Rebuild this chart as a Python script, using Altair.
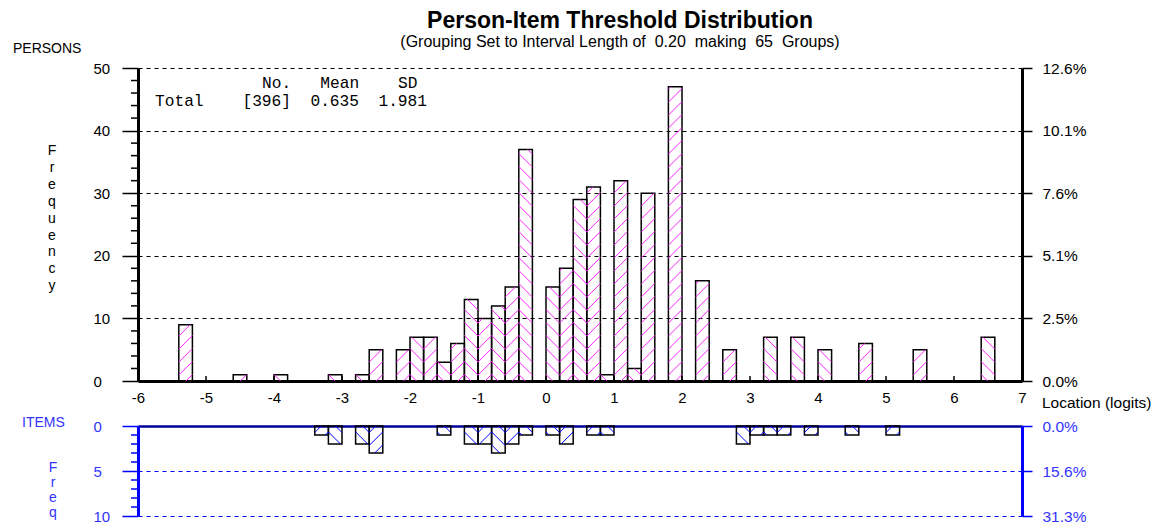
import altair as alt
import pandas as pd

# ---------------- data ----------------
person_loc = [-5.3, -4.5, -3.9, -3.1, -2.7, -2.5, -2.1, -1.9, -1.7, -1.5, -1.3,
              -1.1, -0.9, -0.7, -0.5, -0.3, 0.1, 0.3, 0.5, 0.7, 0.9, 1.1, 1.3,
              1.5, 1.9, 2.3, 2.7, 3.3, 3.7, 4.1, 4.7, 5.5, 6.5]
person_freq = [9, 1, 1, 1, 1, 5, 5, 7, 7, 3, 6,
               13, 10, 12, 15, 37, 15, 18, 29, 31, 1, 32, 2,
               30, 47, 16, 5, 7, 7, 5, 6, 5, 7]
item_loc = [-3.3, -3.1, -2.7, -2.5, -1.5, -1.1, -0.9, -0.7, -0.5, -0.3,
            0.1, 0.3, 0.7, 0.9, 2.9, 3.1, 3.3, 3.5, 3.9, 4.5, 5.1]
item_freq = [1, 2, 2, 3, 1, 2, 2, 3, 2, 1,
             1, 2, 1, 1, 2, 1, 1, 1, 1, 1, 1]
x_ticks = list(range(-6, 8))
person_ticks = [0, 10, 20, 30, 40, 50]
person_minor = [v for v in range(0, 51, 2) if v % 10 != 0]
item_ticks = [0, 5, 10]
item_minor = [v for v in range(0, 11) if v % 5 != 0]
N_PERSONS = 396
N_ITEMS = 32
MEAN = "0.635"
SD = "1.981"
INTERVAL = 0.20
N_GROUPS = 65

TITLE = "Person-Item Threshold Distribution"
NB = "\u00a0"
SUBTITLE = f"(Grouping Set to Interval Length of{NB}{NB}{INTERVAL:.2f}{NB}{NB}making{NB}{NB}{N_GROUPS}{NB}{NB}Groups)"
STAT_HEAD = "No." + NB * 3 + "Mean" + NB * 4 + "SD"
STAT_LINE = "Total" + NB * 4 + f"[{N_PERSONS}]" + NB * 2 + MEAN + NB * 2 + SD

# ---------------- layout constants ----------------
W = 884
H_TOP = 313
H_BOT = 90
X_MIN, X_MAX = -6, 7
PX_X = W / (X_MAX - X_MIN)
FONT = "Liberation Sans"
MONO = "Liberation Mono"
BLUE = "#0000ff"
BLUE_TXT = "#3333ff"
MAGENTA = "#ff22ff"
MONO_SIZE = 16.2


def bars_df(locs, freqs):
    return pd.DataFrame({
        "x0": [l - INTERVAL / 2 for l in locs],
        "x1": [l + INTERVAL / 2 for l in locs],
        "freq": freqs,
        "base": [0] * len(locs),
    })


def hatch_df(locs, freqs, px_y, down, spacing=13.0):
    """Diagonal hatch segments inside each bar (derived from the bar data)."""
    bw = INTERVAL * PX_X
    rows = []
    for loc, f in zip(locs, freqs):
        k = int(round((loc - X_MIN) / INTERVAL - 0.5))
        screen_slash = (k % 2 == 1)
        rising = screen_slash != down
        x0 = loc - INTERVAL / 2
        h = f * px_y
        segs = []
        if rising:
            c = -bw + spacing / 2
            while c < h:
                us, ue = max(0.0, -c), min(bw, h - c)
                if ue - us > 0.5:
                    segs.append((us, us + c, ue, ue + c))
                c += spacing
        else:
            c = spacing / 2
            while c < h + bw:
                us, ue = max(0.0, c - h), min(bw, c)
                if ue - us > 0.5:
                    segs.append((us, c - us, ue, c - ue))
                c += spacing
        for (u1, v1, u2, v2) in segs:
            rows.append({"x": x0 + u1 / PX_X, "y": v1 / px_y,
                         "x2": x0 + u2 / PX_X, "y2": v2 / px_y})
    return pd.DataFrame(rows)


one = pd.DataFrame({"k": [0]})
xscale = alt.Scale(domain=[X_MIN, X_MAX], nice=False, zero=False)


def text_layer(txt, x, y, size, color="black", font=FONT, weight="normal",
               align="left", baseline="middle", line_height=None):
    kw = dict(text=txt, font=font, fontSize=size, color=color, fontWeight=weight,
              align=align, baseline=baseline)
    if line_height is not None:
        kw["lineBreak"] = "\n"
        kw["lineHeight"] = line_height
    return alt.Chart(one).mark_text(**kw).encode(x=alt.value(x), y=alt.value(y))


# ================= top panel : persons =================
p_bars = bars_df(person_loc, person_freq)
p_hatch = hatch_df(person_loc, person_freq, H_TOP / 50, down=False)
yscale_p = alt.Scale(domain=[0, 50], nice=False, zero=True)

p_outline = alt.Chart(p_bars).mark_rect(fillOpacity=0, stroke="black", strokeWidth=1.5).encode(
    x=alt.X("x0:Q", scale=xscale, title=None,
            axis=alt.Axis(values=x_ticks, ticks=False, tickSize=0, domainColor="black",
                          domainWidth=3, labelPadding=9, labelFontSize=15, labelFont=FONT,
                          labelColor="black", labelExpr="'' + datum.value", grid=False,
                          labelFlush=False, labelOverlap=False, title=None)),
    x2="x1:Q",
    y=alt.Y("freq:Q", scale=yscale_p, title=None,
            axis=alt.Axis(values=person_ticks, tickSize=16, tickWidth=1.5, tickColor="black",
                          domainColor="black", domainWidth=3, labelAlign="left",
                          labelPadding=29, labelFontSize=15, labelFont=FONT, labelColor="black",
                          grid=True, gridColor="black", gridDash=[4, 4], gridWidth=1.2,
                          labelFlush=False, labelOverlap=False, title=None)),
    y2="base:Q",
)
p_hatch_l = alt.Chart(p_hatch).mark_rule(color=MAGENTA, strokeWidth=1).encode(
    x=alt.X("x:Q", title=None), x2="x2:Q", y=alt.Y("y:Q", title=None), y2="y2:Q")
p_minor = alt.Chart(pd.DataFrame({"v": person_minor})).mark_rule(color="black", strokeWidth=1.5).encode(
    y=alt.Y("v:Q", title=None), x=alt.value(-7), x2=alt.value(0))
p_xt = alt.Chart(pd.DataFrame({"t": x_ticks})).mark_rule(color="black", strokeWidth=1.5).encode(
    x=alt.X("t:Q", title=None), y=alt.value(H_TOP - 5), y2=alt.value(H_TOP))

top_texts = [
    text_layer(TITLE, 482, -40, 23, weight="bold", align="center", baseline="alphabetic"),
    text_layer(SUBTITLE, 482, -21, 16, align="center", baseline="alphabetic"),
    text_layer("PERSONS", -125, -19, 14),
    text_layer("\n".join("Frequency"), -86, 76, 14, align="center", baseline="top", line_height=16.9),
    text_layer(STAT_HEAD, 17 + 27 * MONO_SIZE * 0.6, 15, MONO_SIZE, font=MONO, align="right"),
    text_layer(STAT_LINE, 17, 33, MONO_SIZE, font=MONO),
    text_layer("Location (logits)", 904, 335, 15.5),
]

p_right = alt.Chart(pd.DataFrame({"v": person_ticks})).mark_rule(opacity=0).encode(
    y=alt.Y("v:Q", scale=alt.Scale(domain=[0, 50], nice=False), title=None,
            axis=alt.Axis(orient="right", values=person_ticks,
                          labelExpr=f"format(datum.value / {N_PERSONS} * 100, '.1f') + '%'",
                          tickSize=10, tickWidth=1.5, tickColor="black", domainColor="black",
                          domainWidth=3, labelPadding=10, labelFontSize=15.5, labelFont=FONT,
                          labelColor="black", grid=False, labelFlush=False, labelOverlap=False,
                          title=None)))

top = alt.layer(
    alt.layer(p_outline, p_hatch_l, p_minor, p_xt, *top_texts),
    p_right,
).resolve_scale(y="independent").properties(width=W, height=H_TOP)

# ================= bottom panel : items =================
i_bars = bars_df(item_loc, item_freq)
i_hatch = hatch_df(item_loc, item_freq, H_BOT / 10, down=True)
yscale_i = alt.Scale(domain=[0, 10], nice=False, zero=True, reverse=True)

i_outline = alt.Chart(i_bars).mark_rect(fillOpacity=0, stroke="black", strokeWidth=1.5).encode(
    x=alt.X("x0:Q", scale=xscale, title=None,
            axis=alt.Axis(orient="top", labels=False, ticks=False, domainColor="#000099",
                          domainWidth=2.5, grid=False, title=None)),
    x2="x1:Q",
    y=alt.Y("freq:Q", scale=yscale_i, title=None,
            axis=alt.Axis(values=item_ticks, tickSize=16, tickWidth=1.5, tickColor=BLUE,
                          domainColor=BLUE, domainWidth=3, labelAlign="left",
                          labelPadding=29, labelFontSize=15, labelFont=FONT, labelColor=BLUE_TXT,
                          grid=True, gridColor=BLUE, gridDash=[4, 4], gridWidth=1.2,
                          labelFlush=False, labelOverlap=False, title=None)),
    y2="base:Q",
)
i_hatch_l = alt.Chart(i_hatch).mark_rule(color=BLUE, strokeWidth=1).encode(
    x=alt.X("x:Q", title=None), x2="x2:Q", y=alt.Y("y:Q", title=None), y2="y2:Q")
i_minor = alt.Chart(pd.DataFrame({"v": item_minor})).mark_rule(color=BLUE, strokeWidth=1.5).encode(
    y=alt.Y("v:Q", title=None), x=alt.value(-7), x2=alt.value(0))

bot_texts = [
    text_layer("ITEMS", -116, -3, 14, color=BLUE_TXT),
    text_layer("\n".join("Freq"), -85, 35, 14, color=BLUE_TXT, align="center",
               baseline="top", line_height=15),
]

i_right = alt.Chart(pd.DataFrame({"v": item_ticks})).mark_rule(opacity=0).encode(
    y=alt.Y("v:Q", scale=alt.Scale(domain=[0, 10], nice=False, reverse=True), title=None,
            axis=alt.Axis(orient="right", values=item_ticks,
                          labelExpr=f"format(datum.value / {N_ITEMS} * 100, '.1f') + '%'",
                          tickSize=10, tickWidth=1.5, tickColor=BLUE, domainColor=BLUE,
                          domainWidth=3, labelPadding=10, labelFontSize=15.5, labelFont=FONT,
                          labelColor=BLUE_TXT, grid=False, labelFlush=False, labelOverlap=False,
                          title=None)))

bottom = alt.layer(
    alt.layer(i_outline, i_hatch_l, i_minor, *bot_texts),
    i_right,
).resolve_scale(y="independent").properties(width=W, height=H_BOT)

chart = alt.vconcat(top, bottom, spacing=4).properties(
    padding={"left": 5, "top": 2, "right": 0, "bottom": 0},
    background="white",
).configure_view(stroke=None)

chart.save("out.html", embed_options={"renderer": "svg", "actions": False})
